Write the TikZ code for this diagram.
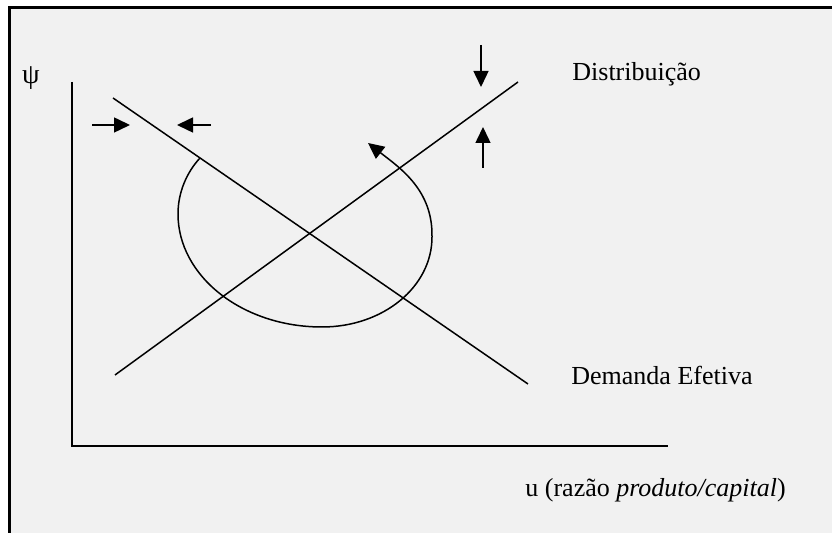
\documentclass[tikz,border=0pt]{standalone}
\usepackage{fontspec}
\setmainfont{Liberation Serif}
\usepackage{tikz}
\usetikzlibrary{arrows.meta}
\usepackage{xcolor}
\definecolor{cPanel}{RGB}{241,241,241}
\definecolor{cInk}{RGB}{0,0,0}
\tikzset{
  panelframe/.style={draw=cInk, line width=1.5pt},
  axisline/.style={draw=cInk, line width=0.8pt},
  curveline/.style={draw=cInk, line width=0.75pt},
  pusharrow/.style={-{Triangle[length=8pt, width=7.5pt]}, line width=0.75pt, color=cInk},
  cyclearrow/.style={-{Triangle[length=8pt, width=7.5pt]}, line width=0.75pt, color=cInk},
  labeltext/.style={font=\fontsize{13}{15.6}\selectfont, inner sep=0pt}
}

\begin{document}
\begin{tikzpicture}[x=0.5pt, y=-0.5pt]
  % Canvas and panel
  \useasboundingbox (0,0) rectangle (832,533);
  \fill[white] (0,0) rectangle (832,533);
  \fill[cPanel] (9,8) rectangle (832,533);
  \draw[panelframe] (9,533) -- (9,8) -- (832,8);

  % Axes
  \coordinate (ytop) at (72,82);
  \coordinate (orig) at (72,446);
  \coordinate (xend) at (668,446);
  \draw[axisline] (ytop) -- (orig) -- (xend);
  \node[labeltext] (psi) at (31,78) {\fontsize{14}{16}\selectfont ψ};
  \node[labeltext, anchor=base west] (xlabel) at (525,497) {u (razão \textit{produto/capital})};

  % Curves
  \coordinate (dstart) at (113,98);
  \coordinate (dend) at (528,384);
  \coordinate (sstart) at (115,375);
  \coordinate (send) at (518,82);
  \draw[curveline] (dstart) -- (dend);
  \draw[curveline] (sstart) -- (send);
  \node[labeltext, anchor=base west] (dist) at (572,81) {Distribuição};
  \node[labeltext, anchor=base west] (dem) at (571,385) {Demanda Efetiva};

  % Adjustment arrows
  \coordinate (la) at (92,125);   \coordinate (lb) at (130,125);
  \coordinate (ra) at (211,125);  \coordinate (rb) at (177,125);
  \coordinate (ua) at (481,45);   \coordinate (ub) at (481,87);
  \coordinate (wa) at (483,168);  \coordinate (wb) at (483,127);
  \draw[pusharrow] (la) -- (lb);
  \draw[pusharrow] (ra) -- (rb);
  \draw[pusharrow] (ua) -- (ub);
  \draw[pusharrow] (wa) -- (wb);

  % Cycle
  \coordinate (cstart) at (200,158);
  \coordinate (cleft) at (178,214);
  \coordinate (cbottom) at (322,327);
  \coordinate (cright) at (432,237);
  \coordinate (ctip) at (368,143);
  \draw[cyclearrow] (cstart) .. controls (187,172) and (178,192) .. (cleft)
    .. controls (178,276) and (242,327) .. (cbottom)
    .. controls (383,327) and (432,287) .. (cright)
    .. controls (433,190) and (400,168) .. (ctip);
\end{tikzpicture}
\end{document}
